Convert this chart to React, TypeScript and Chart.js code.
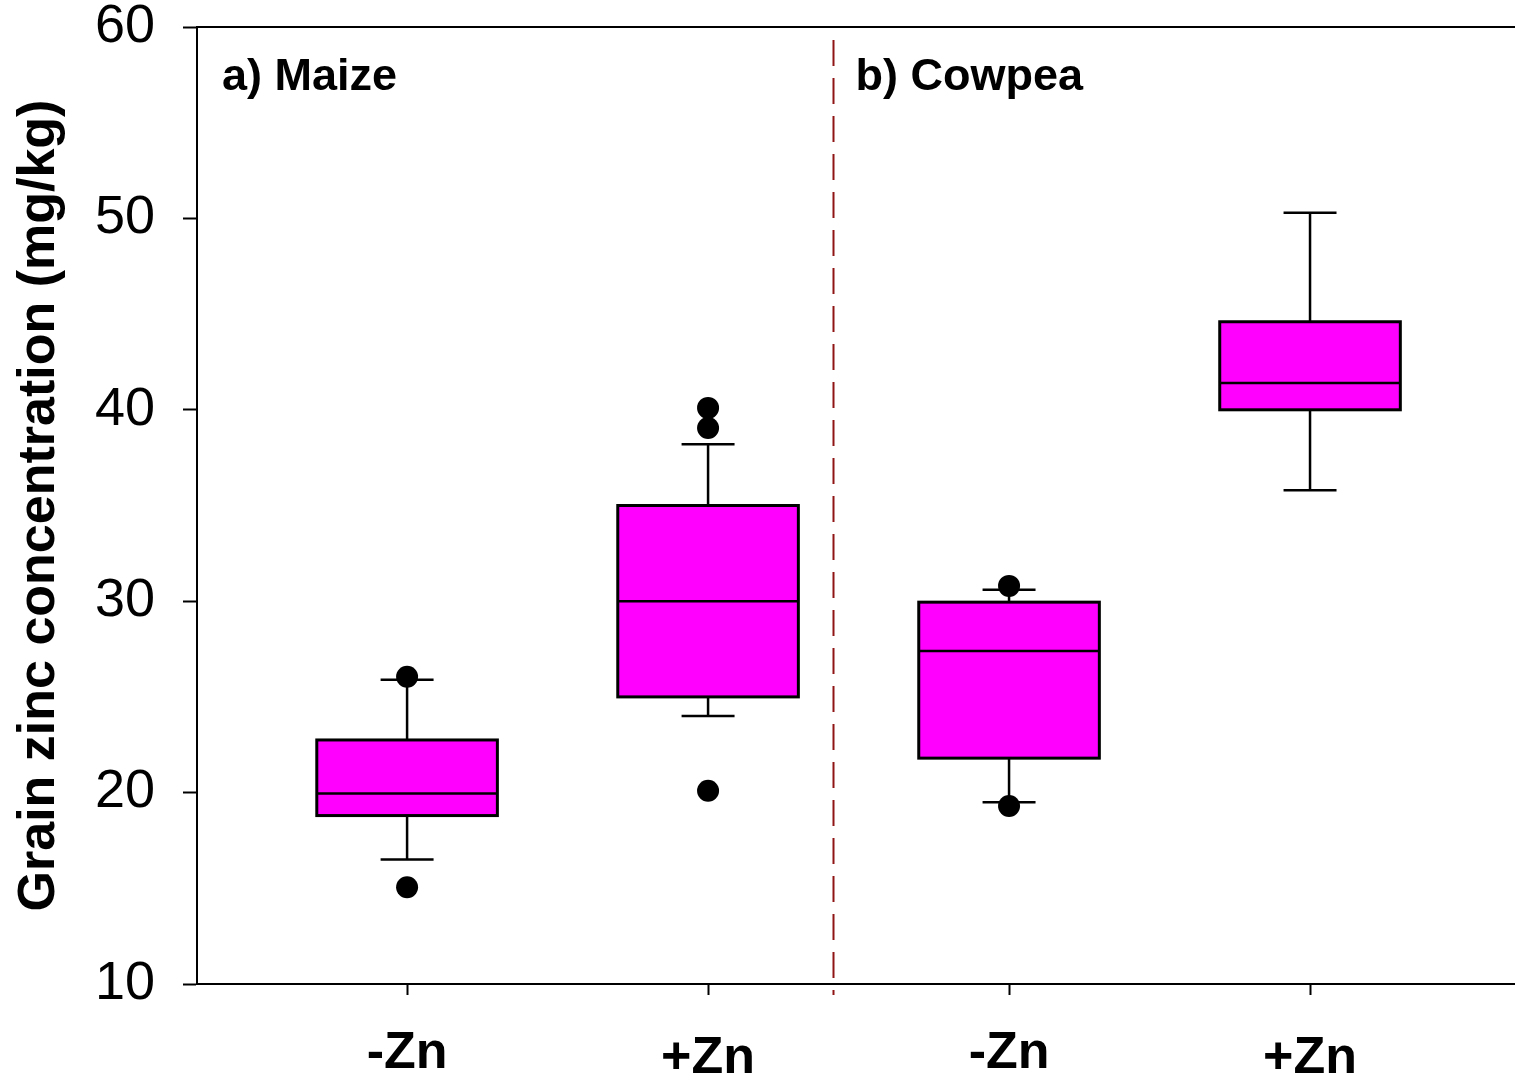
import React, { useEffect, useRef } from 'react';
import { Chart, registerables } from 'chart.js';

Chart.register(...registerables);

// ---- data ----
const categories = ['-Zn', '+Zn', '-Zn', '+Zn'];
const positions = [1, 2, 3, 4];
const whiskerLow = [16.5, 24.0, 19.5, 35.8];
const q1 = [18.8, 25.0, 21.8, 40.0];
const median = [19.95, 30.0, 27.4, 41.4];
const q3 = [22.75, 35.0, 29.95, 44.6];
const whiskerHigh = [25.9, 38.2, 30.6, 50.3];
const outlierX = [1, 1, 2, 2, 2, 3, 3];
const outlierY = [26.05, 15.05, 40.1, 39.05, 20.1, 30.8, 19.3];
const panelLabels = ['a) Maize', 'b) Cowpea'];
const yTickValues = [10, 20, 30, 40, 50, 60];
const yTitle = 'Grain zinc concentration (mg/kg)';
const dividerX = 2.415;

const FONT = 'Liberation Sans, Arial, Helvetica, sans-serif';
const BOX_HALF = 0.3;
const CAP_HALF = 0.088;

const zeroPadding = (s: any) => {
  s.paddingTop = 0;
  s.paddingBottom = 0;
  s.paddingLeft = 0;
  s.paddingRight = 0;
};

const boxPlugin = {
  id: 'boxes',
  beforeDatasetsDraw(chart: any) {
    const { ctx, chartArea, scales } = chart;
    const xs = scales.x;
    const ys = scales.y;
    ctx.save();
    // top frame line
    ctx.strokeStyle = '#000';
    ctx.lineWidth = 2;
    ctx.beginPath();
    ctx.moveTo(chartArea.left, chartArea.top);
    ctx.lineTo(chartArea.right, chartArea.top);
    ctx.stroke();

    // divider
    const dx = Math.round(xs.getPixelForValue(dividerX)) + 0.5;
    ctx.strokeStyle = '#8f1414';
    ctx.lineWidth = 2;
    ctx.setLineDash([26, 12]);
    ctx.beginPath();
    ctx.moveTo(dx, chartArea.top + 13);
    ctx.lineTo(dx, chartArea.bottom + 11);
    ctx.stroke();
    ctx.setLineDash([]);

    for (let i = 0; i < positions.length; i++) {
      const p = positions[i];
      const xc = xs.getPixelForValue(p);
      const xl = xs.getPixelForValue(p - BOX_HALF);
      const xr = xs.getPixelForValue(p + BOX_HALF);
      const cl = xs.getPixelForValue(p - CAP_HALF);
      const cr = xs.getPixelForValue(p + CAP_HALF);
      const yLo = ys.getPixelForValue(whiskerLow[i]);
      const yQ1 = ys.getPixelForValue(q1[i]);
      const yMed = ys.getPixelForValue(median[i]);
      const yQ3 = ys.getPixelForValue(q3[i]);
      const yHi = ys.getPixelForValue(whiskerHigh[i]);
      ctx.strokeStyle = '#000';
      ctx.lineWidth = 2.5;
      // whiskers
      ctx.beginPath();
      ctx.moveTo(xc, yLo);
      ctx.lineTo(xc, yQ1);
      ctx.moveTo(xc, yQ3);
      ctx.lineTo(xc, yHi);
      ctx.moveTo(cl, yLo);
      ctx.lineTo(cr, yLo);
      ctx.moveTo(cl, yHi);
      ctx.lineTo(cr, yHi);
      ctx.stroke();
      // box
      ctx.fillStyle = '#ff00ff';
      ctx.fillRect(xl, yQ3, xr - xl, yQ1 - yQ3);
      ctx.lineWidth = 3;
      ctx.strokeRect(xl, yQ3, xr - xl, yQ1 - yQ3);
      // median
      ctx.lineWidth = 2.5;
      ctx.beginPath();
      ctx.moveTo(xl, yMed);
      ctx.lineTo(xr, yMed);
      ctx.stroke();
    }

    // panel labels
    ctx.fillStyle = '#000';
    ctx.font = `bold 45px ${FONT}`;
    ctx.textBaseline = 'middle';
    ctx.textAlign = 'left';
    ctx.fillText(panelLabels[0], chartArea.left + 25, chartArea.top + 51);
    ctx.fillText(panelLabels[1], dx + 22, chartArea.top + 51);
    ctx.restore();
  },
};

export default function App() {
  const ref = useRef<HTMLCanvasElement | null>(null);
  useEffect(() => {
    document.body.style.margin = '0';
    const canvas = ref.current!;
    const chart = new Chart(canvas, {
      type: 'scatter',
      data: {
        datasets: [
          {
            label: 'Outliers',
            data: outlierX.map((x, i) => ({ x, y: outlierY[i] })),
            pointRadius: 11,
            pointHoverRadius: 11,
            backgroundColor: '#000',
            borderWidth: 0,
          },
        ],
      },
      options: {
        animation: false,
        responsive: false,
        devicePixelRatio: 1,
        layout: { autoPadding: false, padding: { top: 27, right: 0, left: 0, bottom: 0 } },
        plugins: { legend: { display: false }, tooltip: { enabled: false } },
        scales: {
          x: {
            type: 'linear',
            min: 0.302,
            max: 4.681,
            afterFit: (s: any) => {
              s.height = 96;
              zeroPadding(s);
            },
            afterBuildTicks: (s: any) => {
              s.ticks = positions.map((v) => ({ value: v }));
            },
            ticks: {
              color: '#000',
              padding: 27,
              autoSkip: false,
              maxRotation: 0,
              font: (ctx: any) => ({
                family: FONT,
                size: 52,
                weight: 'bold',
                lineHeight: ctx.index % 2 === 1 ? 1.42 : 1.2,
              }),
              callback: (v: any) => {
                const idx = positions.indexOf(Number(v));
                return idx >= 0 ? categories[idx] : '';
              },
            },
            grid: {
              drawOnChartArea: false,
              drawTicks: true,
              tickLength: 11,
              tickColor: '#000',
              tickWidth: 2,
            },
            border: { display: true, color: '#000', width: 2 },
          },
          y: {
            type: 'linear',
            min: 10,
            max: 60,
            afterFit: (s: any) => {
              s.width = 197;
              zeroPadding(s);
            },
            afterBuildTicks: (s: any) => {
              s.ticks = yTickValues.map((v) => ({ value: v }));
            },
            ticks: {
              color: '#000',
              padding: 28,
              font: { family: FONT, size: 54, lineHeight: 1 },
            },
            grid: {
              drawOnChartArea: false,
              drawTicks: true,
              tickLength: 14,
              tickColor: '#000',
              tickWidth: 2,
            },
            border: { display: true, color: '#000', width: 2 },
            title: {
              display: true,
              text: yTitle,
              color: '#000',
              font: { family: FONT, size: 52, weight: 'bold' },
              padding: { top: 8, bottom: 0 },
            },
          },
        },
      },
      plugins: [boxPlugin],
    });
    return () => chart.destroy();
  }, []);
  return (
    <canvas
      ref={ref}
      width={1515}
      height={1080}
      style={{ display: 'block', width: 1515, height: 1080 }}
    />
  );
}
